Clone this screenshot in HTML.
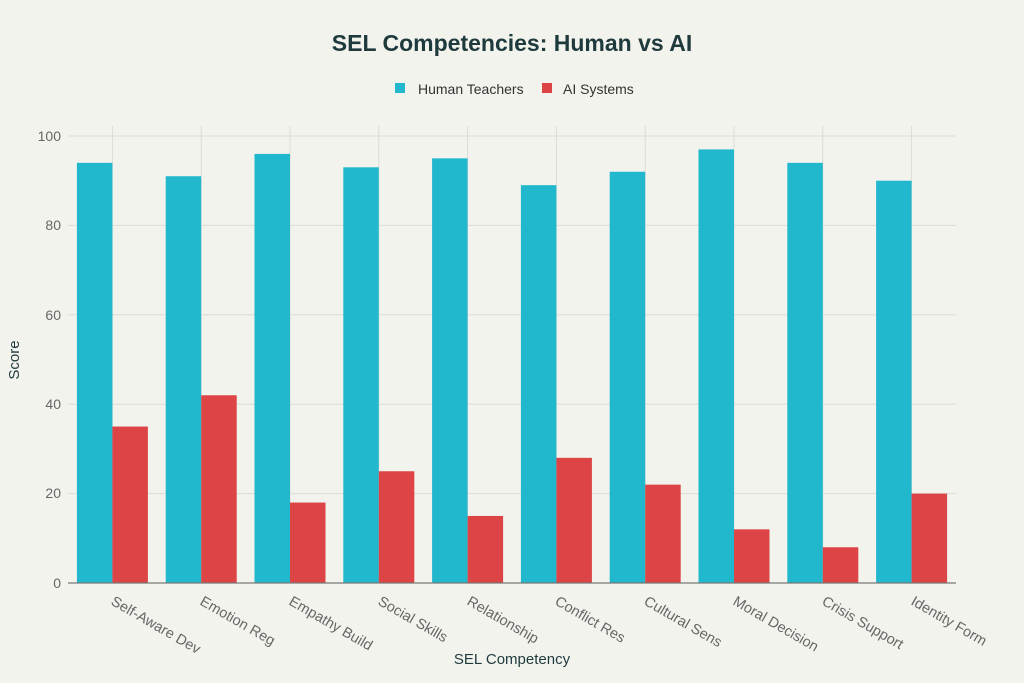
<!DOCTYPE html>
<html><head><meta charset="utf-8"><style>
body{margin:0;background:#f3f3ee;}
svg{display:block;font-family:"Liberation Sans",sans-serif;}
</style></head><body>
<svg width="1024" height="683" xmlns="http://www.w3.org/2000/svg">
<rect width="1024" height="683" fill="#f3f3ee"/>
<text x="512" y="51" text-anchor="middle" font-size="23" font-weight="bold" fill="#1f3a3d">SEL Competencies: Human vs AI</text>
<rect x="395" y="83" width="10" height="10" fill="#21b8cd"/>
<text x="418" y="94" font-size="14" fill="#333">Human Teachers</text>
<rect x="542" y="83" width="10" height="10" fill="#dc4445"/>
<text x="563" y="94" font-size="14" fill="#333">AI Systems</text>
<g stroke="#dcdcd6" stroke-width="1">
<line x1="68" x2="956" y1="136" y2="136"/><line x1="68" x2="956" y1="225.4" y2="225.4"/>
<line x1="68" x2="956" y1="314.8" y2="314.8"/><line x1="68" x2="956" y1="404.2" y2="404.2"/>
<line x1="68" x2="956" y1="493.6" y2="493.6"/>
<line x1="112.4" x2="112.4" y1="126" y2="583"/><line x1="201.2" x2="201.2" y1="126" y2="583"/>
<line x1="290" x2="290" y1="126" y2="583"/><line x1="378.8" x2="378.8" y1="126" y2="583"/>
<line x1="467.6" x2="467.6" y1="126" y2="583"/><line x1="556.4" x2="556.4" y1="126" y2="583"/>
<line x1="645.2" x2="645.2" y1="126" y2="583"/><line x1="734" x2="734" y1="126" y2="583"/>
<line x1="822.8" x2="822.8" y1="126" y2="583"/><line x1="911.6" x2="911.6" y1="126" y2="583"/>
</g>
<g font-size="14" fill="#666" text-anchor="end">
<text x="61" y="141">100</text><text x="61" y="230">80</text><text x="61" y="320">60</text>
<text x="61" y="409">40</text><text x="61" y="498">20</text><text x="61" y="588">0</text>
</g>
<text transform="translate(19,360) rotate(-90)" text-anchor="middle" font-size="15" fill="#1f3a3d">Score</text>
<text x="512" y="664" text-anchor="middle" font-size="15" fill="#1f3a3d">SEL Competency</text>
<g fill="#21b8cd">
<rect x="76.9" y="162.82" width="35.5" height="420.18"/>
<rect x="165.7" y="176.23" width="35.5" height="406.77"/>
<rect x="254.5" y="153.88" width="35.5" height="429.12"/>
<rect x="343.3" y="167.29" width="35.5" height="415.71"/>
<rect x="432.1" y="158.35" width="35.5" height="424.65"/>
<rect x="520.9" y="185.17" width="35.5" height="397.83"/>
<rect x="609.7" y="171.76" width="35.5" height="411.24"/>
<rect x="698.5" y="149.41" width="35.5" height="433.59"/>
<rect x="787.3" y="162.82" width="35.5" height="420.18"/>
<rect x="876.1" y="180.7" width="35.5" height="402.3"/>
</g>
<g fill="#dc4445">
<rect x="112.4" y="426.55" width="35.5" height="156.45"/>
<rect x="201.2" y="395.26" width="35.5" height="187.74"/>
<rect x="290" y="502.54" width="35.5" height="80.46"/>
<rect x="378.8" y="471.25" width="35.5" height="111.75"/>
<rect x="467.6" y="515.95" width="35.5" height="67.05"/>
<rect x="556.4" y="457.84" width="35.5" height="125.16"/>
<rect x="645.2" y="484.66" width="35.5" height="98.34"/>
<rect x="734" y="529.36" width="35.5" height="53.64"/>
<rect x="822.8" y="547.24" width="35.5" height="35.76"/>
<rect x="911.6" y="493.6" width="35.5" height="89.4"/>
</g>
<line x1="68" x2="956" y1="583" y2="583" stroke="#777" stroke-width="1.2"/>
<g font-size="14.5" fill="#666">
<text transform="translate(110,604) rotate(30)">Self-Aware Dev</text>
<text transform="translate(199,604) rotate(30)">Emotion Reg</text>
<text transform="translate(288,604) rotate(30)">Empathy Build</text>
<text transform="translate(377,604) rotate(30)">Social Skills</text>
<text transform="translate(466,604) rotate(30)">Relationship</text>
<text transform="translate(554,604) rotate(30)">Conflict Res</text>
<text transform="translate(643,604) rotate(30)">Cultural Sens</text>
<text transform="translate(732,604) rotate(30)">Moral Decision</text>
<text transform="translate(821,604) rotate(30)">Crisis Support</text>
<text transform="translate(910,604) rotate(30)">Identity Form</text>
</g>
</svg>
</body></html>
